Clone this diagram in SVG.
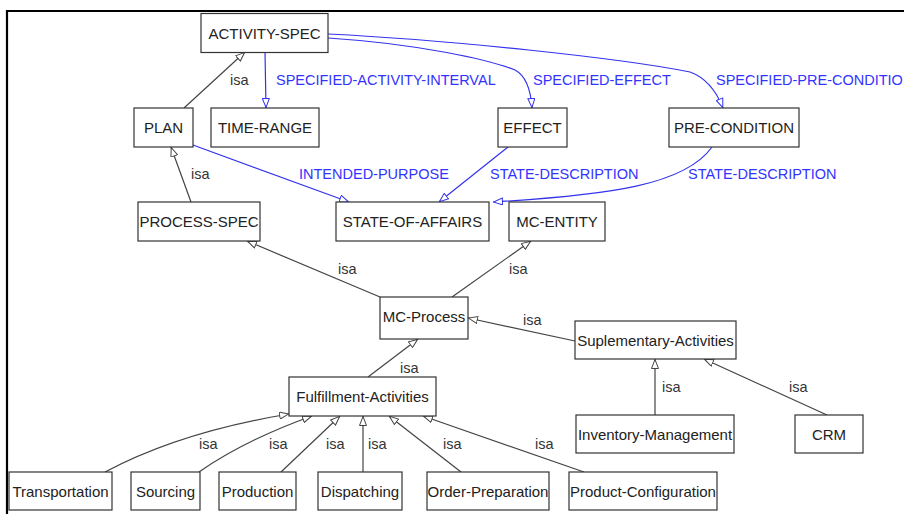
<svg xmlns="http://www.w3.org/2000/svg" width="904" height="514" viewBox="0 0 904 514">
<style>
.n rect{fill:#fff;stroke:#333;stroke-width:1.2}
.n text{font-family:"Liberation Sans",Arial,sans-serif;font-size:15px;fill:#222;text-anchor:middle}
.l{font-family:"Liberation Sans",Arial,sans-serif;font-size:14.5px}
.isa{fill:#333}
.rel{fill:#3333ff}
.e{fill:none;stroke:#444;stroke-width:1.2;marker-end:url(#ah)}
.b{fill:none;stroke:#3333ee;stroke-width:1.2;marker-end:url(#bh)}
</style>
<defs>
<marker id="ah" viewBox="0 0 10 8" refX="10" refY="4" markerWidth="10" markerHeight="8" markerUnits="userSpaceOnUse" orient="auto"><path d="M0.5,0.5 L9.5,4 L0.5,7.5 Z" fill="#fff" stroke="#444" stroke-width="1"/></marker>
<marker id="bh" viewBox="0 0 10 8" refX="10" refY="4" markerWidth="10" markerHeight="8" markerUnits="userSpaceOnUse" orient="auto"><path d="M0.5,0.5 L9.5,4 L0.5,7.5 Z" fill="#fff" stroke="#3333ee" stroke-width="1"/></marker>
</defs>
<rect width="904" height="514" fill="#fff"/>
<path d="M7,514 V11 H904" fill="none" stroke="#000" stroke-width="2.2"/>
<g id="connectors">
<path class="e" d="M184,108 L245,52"/>
<path class="e" d="M191,202 L171,147"/>
<path class="e" d="M380,297 L247,241"/>
<path class="e" d="M452,297 L531,241"/>
<path class="e" d="M575,341 L468,318"/>
<path class="e" d="M368,377 L418,339"/>
<path class="e" d="M655,415 L655,359"/>
<path class="e" d="M827,415 L704,359"/>
<path class="e" d="M105,472 Q180,432 289,414"/>
<path class="e" d="M199,472 Q245,440 312,416"/>
<path class="e" d="M281,472 L340,416"/>
<path class="e" d="M363,472 L363,416"/>
<path class="e" d="M461,472 L389,416"/>
<path class="e" d="M584,472 L423,416"/>
<path class="b" d="M265,52 L266,108"/>
<path class="b" d="M328,38 C420,44 490,60 515,70 Q530,78 532,108"/>
<path class="b" d="M328,34 C450,40 620,58 690,72 Q712,80 723,108"/>
<path class="b" d="M193,145 L349,202"/>
<path class="b" d="M508,147 L439,202"/>
<path class="b" d="M712,147 C685,185 610,195 493,202"/>
<text class="l isa" x="230" y="85">isa</text>
<text class="l rel" x="276" y="85">SPECIFIED-ACTIVITY-INTERVAL</text>
<text class="l rel" x="533" y="85">SPECIFIED-EFFECT</text>
<text class="l rel" x="716" y="85">SPECIFIED-PRE-CONDITIO</text>
<text class="l isa" x="191" y="179">isa</text>
<text class="l rel" x="299" y="179">INTENDED-PURPOSE</text>
<text class="l rel" x="490" y="179">STATE-DESCRIPTION</text>
<text class="l rel" x="688" y="179">STATE-DESCRIPTION</text>
<text class="l isa" x="338" y="274">isa</text>
<text class="l isa" x="509" y="274">isa</text>
<text class="l isa" x="523" y="325">isa</text>
<text class="l isa" x="400" y="373">isa</text>
<text class="l isa" x="662" y="392">isa</text>
<text class="l isa" x="789" y="392">isa</text>
<text class="l isa" x="199" y="449">isa</text>
<text class="l isa" x="269" y="449">isa</text>
<text class="l isa" x="326" y="449">isa</text>
<text class="l isa" x="368" y="449">isa</text>
<text class="l isa" x="443" y="449">isa</text>
<text class="l isa" x="535" y="449">isa</text>
</g>
<g id="activity-spec" class="n"><rect x="201" y="13.5" width="127" height="39"/><text x="264.5" y="38.5">ACTIVITY-SPEC</text></g>
<g id="plan" class="n"><rect x="134" y="108" width="59" height="39"/><text x="163.5" y="133">PLAN</text></g>
<g id="time-range" class="n"><rect x="211" y="108" width="108" height="39"/><text x="265" y="133">TIME-RANGE</text></g>
<g id="effect" class="n"><rect x="498" y="108" width="69" height="39"/><text x="532.5" y="133">EFFECT</text></g>
<g id="pre-condition" class="n"><rect x="669" y="108" width="130" height="39"/><text x="734" y="133">PRE-CONDITION</text></g>
<g id="process-spec" class="n"><rect x="138" y="202" width="122" height="39"/><text x="199" y="227">PROCESS-SPEC</text></g>
<g id="state-of-affairs" class="n"><rect x="336" y="202" width="153" height="39"/><text x="412.5" y="227">STATE-OF-AFFAIRS</text></g>
<g id="mc-entity" class="n"><rect x="509" y="202" width="96" height="39"/><text x="557" y="227">MC-ENTITY</text></g>
<g id="mc-process" class="n"><rect x="380" y="297" width="88" height="42"/><text x="424" y="321.5">MC-Process</text></g>
<g id="suplementary-activities" class="n"><rect x="575" y="321" width="161" height="38"/><text x="655.5" y="345.5">Suplementary-Activities</text></g>
<g id="fulfillment-activities" class="n"><rect x="289" y="377" width="147" height="39"/><text x="362.5" y="402">Fulfillment-Activities</text></g>
<g id="inventory-management" class="n"><rect x="576" y="415" width="158" height="38"/><text x="655" y="439.5">Inventory-Management</text></g>
<g id="crm" class="n"><rect x="795" y="415" width="68" height="38"/><text x="829" y="439.5">CRM</text></g>
<g id="transportation" class="n"><rect x="9" y="472" width="103" height="38"/><text x="60.5" y="496.5">Transportation</text></g>
<g id="sourcing" class="n"><rect x="131" y="472" width="69" height="38"/><text x="165.5" y="496.5">Sourcing</text></g>
<g id="production" class="n"><rect x="219" y="472" width="77" height="38"/><text x="257.5" y="496.5">Production</text></g>
<g id="dispatching" class="n"><rect x="318" y="472" width="84" height="38"/><text x="360" y="496.5">Dispatching</text></g>
<g id="order-preparation" class="n"><rect x="427" y="472" width="122" height="38"/><text x="488" y="496.5">Order-Preparation</text></g>
<g id="product-configuration" class="n"><rect x="569" y="472" width="148" height="38"/><text x="643" y="496.5">Product-Configuration</text></g>
</svg>
